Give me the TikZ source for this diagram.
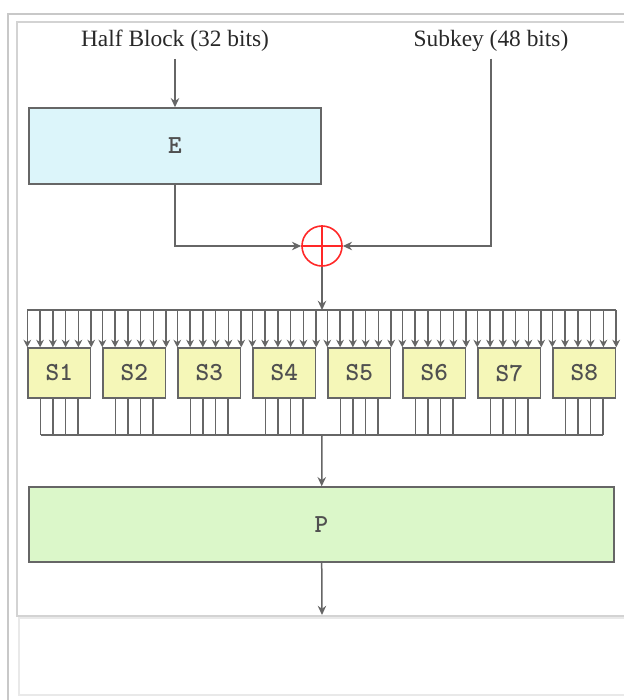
\documentclass[tikz,border=0pt]{standalone}
\usepackage{fontspec}
\setmainfont{Liberation Serif}
\usepackage{xcolor}
\definecolor{desline}{RGB}{102,102,102}
\definecolor{destext}{RGB}{80,80,80}
\definecolor{deshead}{RGB}{40,40,40}
\definecolor{descyan}{RGB}{220,245,250}
\definecolor{desgreen}{RGB}{219,247,201}
\definecolor{desyellow}{RGB}{245,247,184}
\definecolor{desred}{RGB}{255,40,40}
\definecolor{desframe}{RGB}{200,200,200}
\usetikzlibrary{arrows.meta, positioning, calc}

\tikzset{
  wire/.style={desline, line width=0.75pt},
  arr/.style={wire, -{Stealth[length=4.6pt,width=4.2pt]}},
  inarr/.style={wire, -{Stealth[length=3.8pt,width=3.9pt]}},
  headlabel/.style={font=\fontsize{11.7}{14}\selectfont, text=deshead},
  boxlabel/.style={font=\fontsize{13}{15}\ttfamily\bfseries, text=destext},
  ebox/.style={boxlabel, draw=desline, line width=0.7pt, fill=descyan,
               minimum width=146pt, minimum height=38pt},
  pbox/.style={boxlabel, draw=desline, line width=0.7pt, fill=desgreen,
               minimum width=292.5pt, minimum height=37.5pt},
  sbox/.style={boxlabel, draw=desline, line width=0.7pt, fill=desyellow,
               minimum width=31.25pt, minimum height=25pt, inner sep=0pt},
  xorop/.style={circle, draw=desred, line width=0.8pt, minimum size=20pt, inner sep=0pt}
}

\begin{document}
\begin{tikzpicture}[x=0.5pt, y=-0.5pt]
      \useasboundingbox (0,0) rectangle (624,700);
      % frames round the figure
      \draw[desframe, line width=1.2pt] (8,14) rectangle (660,740);
      \draw[desframe!80, line width=1pt] (17,22) rectangle (660,616);
      \draw[desframe!40, fill=white, line width=0.8pt] (19,618) rectangle (660,695);
      % inputs
      \node[headlabel] (half) at (175,41) {Half Block (32 bits)};
      \node[headlabel] (subkey) at (491,41) {Subkey (48 bits)};
      % expansion box
      \node[ebox] (E) at (175,146) {E};
      \draw[arr] (half) -- (E);
      % key mixing
      \node[xorop] (xor) at (322,246) {};
      \draw[desred, line width=0.8pt] (xor.north) -- (xor.south);
      \draw[desred, line width=0.8pt] (xor.west) -- (xor.east);
      \draw[arr] (E.south) |- (xor.west);
      \draw[arr] (subkey.south) |- (xor.east);
      % S-boxes
      \foreach \k in {1,...,8}
        \node[sbox] (S\k) at ({59.25+75*(\k-1)},373) {S\k};
      \coordinate (busin) at (322,310);
      \draw[arr] (xor.south) -- (busin);
      \draw[wire] (S1.north west |- busin) -- (S8.north east |- busin);
      \foreach \k in {1,...,8}
        \foreach \i in {0,...,5} {
          \path ($(S\k.north west)!\i/5!(S\k.north east)$) coordinate (t);
          \draw[inarr] (t |- busin) -- (t);
        }
      % S-box outputs
      \coordinate (busout) at (322,435);
      \foreach \k in {1,...,8}
        \foreach [count=\j] \i in {-1.5,-0.5,0.5,1.5} {
          \path (S\k.south) ++(\i*12.5,0) coordinate (o\k-\j);
          \draw[wire] (o\k-\j) -- (o\k-\j |- busout);
        }
      \draw[wire] (o1-1 |- busout) -- (o8-4 |- busout);
      % permutation
      \node[pbox] (P) at (321.5,524.5) {P};
      \draw[arr] (busout) -- (P);
      \coordinate (out) at (322,615);
      \draw[arr] (P) -- (out);
\end{tikzpicture}
\end{document}
